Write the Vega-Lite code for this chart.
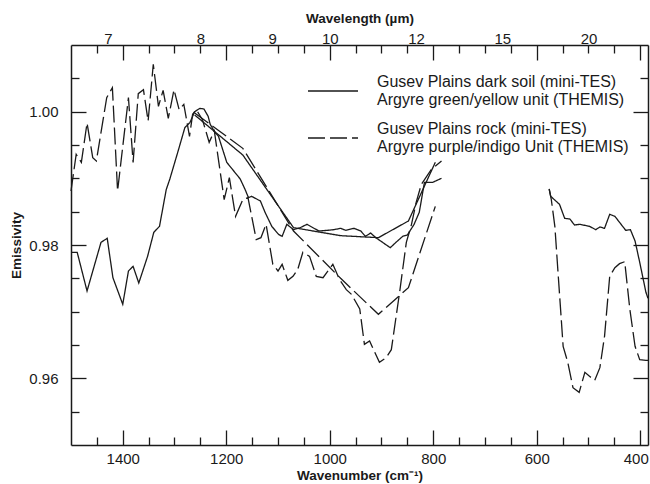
{
  "$schema": "https://vega.github.io/schema/vega-lite/v6.json",
  "width": 577,
  "height": 400,
  "autosize": {"type": "none"},
  "padding": {"left": 71, "top": 45, "right": 2, "bottom": 39},
  "config": {
    "view": {"stroke": null},
    "font": "Liberation Sans",
    "axis": {"labelFont": "Liberation Sans", "titleFont": "Liberation Sans", "grid": false, "domainColor": "#1a1a1a", "domainWidth": 1.5, "tickColor": "#1a1a1a", "tickWidth": 1.3, "labelColor": "#1a1a1a", "titleColor": "#1a1a1a", "labelFontSize": 15, "titleFontSize": 13.5, "titleFontWeight": "bold", "labelOverlap": false, "labelFlush": false}
  },
  "datasets": {
    "groups": [
      {"g": "a", "label": "Gusev Plains dark soil (mini-TES)|Argyre green/yellow unit (THEMIS)"},
      {"g": "b", "label": "Gusev Plains rock (mini-TES)|Argyre purple/indigo Unit (THEMIS)"}
    ],
    "curves": [
      {"s":"soil1","g":"a","w":1500,"e":0.9789},{"s":"soil1","g":"a","w":1488,"e":0.9789},{"s":"soil1","g":"a","w":1469,"e":0.9731},{"s":"soil1","g":"a","w":1442,"e":0.9804},{"s":"soil1","g":"a","w":1430,"e":0.9810},{"s":"soil1","g":"a","w":1419,"e":0.9751},{"s":"soil1","g":"a","w":1400,"e":0.9711},{"s":"soil1","g":"a","w":1389,"e":0.9761},{"s":"soil1","g":"a","w":1380,"e":0.9768},{"s":"soil1","g":"a","w":1369,"e":0.9743},{"s":"soil1","g":"a","w":1352,"e":0.9783},{"s":"soil1","g":"a","w":1340,"e":0.9819},{"s":"soil1","g":"a","w":1329,"e":0.9828},{"s":"soil1","g":"a","w":1316,"e":0.9883},{"s":"soil1","g":"a","w":1309,"e":0.9899},{"s":"soil1","g":"a","w":1293,"e":0.9941},{"s":"soil1","g":"a","w":1280,"e":0.9976},{"s":"soil1","g":"a","w":1270,"e":0.9984},{"s":"soil1","g":"a","w":1261,"e":1.0000},{"s":"soil1","g":"a","w":1251,"e":1.0005},{"s":"soil1","g":"a","w":1243,"e":1.0004},{"s":"soil1","g":"a","w":1235,"e":0.9993},{"s":"soil1","g":"a","w":1231,"e":0.9981},{"s":"soil1","g":"a","w":1222,"e":0.9969},{"s":"soil1","g":"a","w":1215,"e":0.9963},{"s":"soil1","g":"a","w":1199,"e":0.9924},{"s":"soil1","g":"a","w":1173,"e":0.9899},{"s":"soil1","g":"a","w":1164,"e":0.9884},{"s":"soil1","g":"a","w":1157,"e":0.9871},{"s":"soil1","g":"a","w":1151,"e":0.9873},{"s":"soil1","g":"a","w":1134,"e":0.9866},{"s":"soil1","g":"a","w":1125,"e":0.9849},{"s":"soil1","g":"a","w":1112,"e":0.9828},{"s":"soil1","g":"a","w":1099,"e":0.9816},{"s":"soil1","g":"a","w":1092,"e":0.9813},{"s":"soil1","g":"a","w":1083,"e":0.9831},{"s":"soil1","g":"a","w":1070,"e":0.9823},{"s":"soil1","g":"a","w":1057,"e":0.9826},{"s":"soil1","g":"a","w":1044,"e":0.9831},{"s":"soil1","g":"a","w":1021,"e":0.9821},{"s":"soil1","g":"a","w":1005,"e":0.9822},{"s":"soil1","g":"a","w":992,"e":0.9823},{"s":"soil1","g":"a","w":979,"e":0.9825},{"s":"soil1","g":"a","w":969,"e":0.9822},{"s":"soil1","g":"a","w":953,"e":0.9825},{"s":"soil1","g":"a","w":940,"e":0.9821},{"s":"soil1","g":"a","w":931,"e":0.9813},{"s":"soil1","g":"a","w":921,"e":0.9818},{"s":"soil1","g":"a","w":911,"e":0.9811},{"s":"soil1","g":"a","w":898,"e":0.9804},{"s":"soil1","g":"a","w":883,"e":0.9796},{"s":"soil1","g":"a","w":872,"e":0.9804},{"s":"soil1","g":"a","w":859,"e":0.9813},{"s":"soil1","g":"a","w":850,"e":0.9815},{"s":"soil1","g":"a","w":837,"e":0.9831},{"s":"soil1","g":"a","w":827,"e":0.9849},{"s":"soil1","g":"a","w":817,"e":0.9894},{"s":"soil1","g":"a","w":801,"e":0.9894},{"s":"soil1","g":"a","w":784,"e":0.9900},
      {"s":"soil2","g":"a","w":576,"e":0.9884},{"s":"soil2","g":"a","w":573,"e":0.9873},{"s":"soil2","g":"a","w":556,"e":0.9861},{"s":"soil2","g":"a","w":546,"e":0.9840},{"s":"soil2","g":"a","w":536,"e":0.9839},{"s":"soil2","g":"a","w":527,"e":0.9830},{"s":"soil2","g":"a","w":517,"e":0.9831},{"s":"soil2","g":"a","w":498,"e":0.9828},{"s":"soil2","g":"a","w":486,"e":0.9823},{"s":"soil2","g":"a","w":478,"e":0.9827},{"s":"soil2","g":"a","w":469,"e":0.9825},{"s":"soil2","g":"a","w":459,"e":0.9846},{"s":"soil2","g":"a","w":449,"e":0.9843},{"s":"soil2","g":"a","w":440,"e":0.9834},{"s":"soil2","g":"a","w":428,"e":0.9822},{"s":"soil2","g":"a","w":419,"e":0.9823},{"s":"soil2","g":"a","w":410,"e":0.9806},{"s":"soil2","g":"a","w":401,"e":0.9774},{"s":"soil2","g":"a","w":389,"e":0.9729},{"s":"soil2","g":"a","w":385,"e":0.9720},
      {"s":"green","g":"a","w":1261,"e":0.9995},{"s":"green","g":"a","w":1168,"e":0.9935},{"s":"green","g":"a","w":1070,"e":0.9826},{"s":"green","g":"a","w":979,"e":0.9814},{"s":"green","g":"a","w":906,"e":0.9811},{"s":"green","g":"a","w":848,"e":0.9836},{"s":"green","g":"a","w":796,"e":0.9924},
      {"s":"rock1","g":"b","w":1500,"e":0.9881},{"s":"rock1","g":"b","w":1490,"e":0.9936},{"s":"rock1","g":"b","w":1480,"e":0.9924},{"s":"rock1","g":"b","w":1469,"e":0.9983},{"s":"rock1","g":"b","w":1458,"e":0.9931},{"s":"rock1","g":"b","w":1451,"e":0.9926},{"s":"rock1","g":"b","w":1431,"e":1.0021},{"s":"rock1","g":"b","w":1420,"e":1.0036},{"s":"rock1","g":"b","w":1410,"e":0.9881},{"s":"rock1","g":"b","w":1389,"e":1.0021},{"s":"rock1","g":"b","w":1380,"e":0.9924},{"s":"rock1","g":"b","w":1370,"e":1.0027},{"s":"rock1","g":"b","w":1360,"e":1.0033},{"s":"rock1","g":"b","w":1351,"e":0.9986},{"s":"rock1","g":"b","w":1341,"e":1.0071},{"s":"rock1","g":"b","w":1331,"e":1.0008},{"s":"rock1","g":"b","w":1322,"e":1.0032},{"s":"rock1","g":"b","w":1312,"e":0.9990},{"s":"rock1","g":"b","w":1301,"e":1.0033},{"s":"rock1","g":"b","w":1291,"e":1.0003},{"s":"rock1","g":"b","w":1282,"e":1.0011},{"s":"rock1","g":"b","w":1271,"e":0.9963},{"s":"rock1","g":"b","w":1265,"e":0.9996},{"s":"rock1","g":"b","w":1258,"e":1.0003},{"s":"rock1","g":"b","w":1246,"e":0.9988},{"s":"rock1","g":"b","w":1233,"e":0.9954},{"s":"rock1","g":"b","w":1223,"e":0.9971},{"s":"rock1","g":"b","w":1204,"e":0.9868},{"s":"rock1","g":"b","w":1194,"e":0.9901},{"s":"rock1","g":"b","w":1182,"e":0.9843},{"s":"rock1","g":"b","w":1168,"e":0.9868},{"s":"rock1","g":"b","w":1158,"e":0.9871},{"s":"rock1","g":"b","w":1142,"e":0.9808},{"s":"rock1","g":"b","w":1133,"e":0.9811},{"s":"rock1","g":"b","w":1123,"e":0.9831},{"s":"rock1","g":"b","w":1110,"e":0.9771},{"s":"rock1","g":"b","w":1100,"e":0.9761},{"s":"rock1","g":"b","w":1092,"e":0.9771},{"s":"rock1","g":"b","w":1081,"e":0.9747},{"s":"rock1","g":"b","w":1071,"e":0.9753},{"s":"rock1","g":"b","w":1062,"e":0.9763},{"s":"rock1","g":"b","w":1052,"e":0.9789},{"s":"rock1","g":"b","w":1039,"e":0.9783},{"s":"rock1","g":"b","w":1026,"e":0.9753},{"s":"rock1","g":"b","w":1013,"e":0.9751},{"s":"rock1","g":"b","w":994,"e":0.9771},{"s":"rock1","g":"b","w":981,"e":0.9748},{"s":"rock1","g":"b","w":968,"e":0.9733},{"s":"rock1","g":"b","w":958,"e":0.9726},{"s":"rock1","g":"b","w":942,"e":0.9704},{"s":"rock1","g":"b","w":933,"e":0.9651},{"s":"rock1","g":"b","w":923,"e":0.9656},{"s":"rock1","g":"b","w":913,"e":0.9639},{"s":"rock1","g":"b","w":904,"e":0.9624},{"s":"rock1","g":"b","w":891,"e":0.9631},{"s":"rock1","g":"b","w":881,"e":0.9643},{"s":"rock1","g":"b","w":865,"e":0.9729},{"s":"rock1","g":"b","w":852,"e":0.9804},{"s":"rock1","g":"b","w":842,"e":0.9831},{"s":"rock1","g":"b","w":833,"e":0.9864},{"s":"rock1","g":"b","w":823,"e":0.9891},{"s":"rock1","g":"b","w":804,"e":0.9913},{"s":"rock1","g":"b","w":784,"e":0.9926},
      {"s":"rock2","g":"b","w":576,"e":0.9884},{"s":"rock2","g":"b","w":572,"e":0.9869},{"s":"rock2","g":"b","w":565,"e":0.9828},{"s":"rock2","g":"b","w":549,"e":0.9648},{"s":"rock2","g":"b","w":540,"e":0.9624},{"s":"rock2","g":"b","w":530,"e":0.9586},{"s":"rock2","g":"b","w":518,"e":0.9579},{"s":"rock2","g":"b","w":507,"e":0.9609},{"s":"rock2","g":"b","w":498,"e":0.9603},{"s":"rock2","g":"b","w":488,"e":0.9597},{"s":"rock2","g":"b","w":478,"e":0.9616},{"s":"rock2","g":"b","w":469,"e":0.9663},{"s":"rock2","g":"b","w":459,"e":0.9753},{"s":"rock2","g":"b","w":449,"e":0.9766},{"s":"rock2","g":"b","w":440,"e":0.9772},{"s":"rock2","g":"b","w":430,"e":0.9775},{"s":"rock2","g":"b","w":420,"e":0.9703},{"s":"rock2","g":"b","w":410,"e":0.9648},{"s":"rock2","g":"b","w":401,"e":0.9628},{"s":"rock2","g":"b","w":389,"e":0.9627},{"s":"rock2","g":"b","w":385,"e":0.9627},
      {"s":"purple","g":"b","w":1261,"e":0.9998},{"s":"purple","g":"b","w":1168,"e":0.9945},{"s":"purple","g":"b","w":1070,"e":0.9821},{"s":"purple","g":"b","w":979,"e":0.9750},{"s":"purple","g":"b","w":906,"e":0.9696},{"s":"purple","g":"b","w":848,"e":0.9736},{"s":"purple","g":"b","w":796,"e":0.9858}
    ]
  },
  "data": {"name": "curves"},
  "transform": [
    {"lookup": "g", "from": {"data": {"name": "groups"}, "key": "g", "fields": ["label"]}}
  ],
  "layer": [
    {
      "mark": {"type": "line", "strokeWidth": 1.3, "color": "#1a1a1a"},
      "encoding": {
        "x": {
          "field": "w", "type": "quantitative",
          "scale": {"domain": [385, 1500], "reverse": true, "nice": false, "zero": false},
          "axis": {"orient": "bottom", "values": [400, 600, 800, 1000, 1200, 1400], "format": "d", "ticks": false, "labelPadding": 6, "labelFlush": 10, "labelFlushOffset": 8, "title": "Wavenumber (cm⁻¹)", "titlePadding": 2}
        },
        "y": {
          "field": "e", "type": "quantitative",
          "scale": {"domain": [0.95, 1.01], "nice": false, "zero": false},
          "axis": {"orient": "left", "values": [0.96, 0.98, 1], "format": ".2f", "ticks": false, "labelPadding": 13, "title": "Emissivity", "titlePadding": 5}
        },
        "strokeDash": {
          "field": "label", "type": "nominal",
          "scale": {"domain": ["Gusev Plains dark soil (mini-TES)|Argyre green/yellow unit (THEMIS)", "Gusev Plains rock (mini-TES)|Argyre purple/indigo Unit (THEMIS)"], "range": [[1, 0], [17, 5]]},
          "legend": {
            "orient": "none", "legendX": 236, "legendY": 20,
            "title": null, "padding": 0,
            "symbolType": "stroke", "symbolSize": 2500, "symbolStrokeWidth": 1.3, "symbolStrokeColor": "#1a1a1a",
            "labelExpr": "split(datum.label, '|')",
            "labelBaseline": "line-bottom",
            "labelFont": "Liberation Sans", "labelFontSize": 16, "labelColor": "#1a1a1a",
            "labelOffset": 18, "rowPadding": 4, "labelLimit": 400
          }
        },
        "detail": {"field": "s", "type": "nominal"}
      }
    },
    {
      "mark": {"type": "point", "opacity": 0},
      "encoding": {
        "x": {"field": "w", "type": "quantitative", "axis": {"orient": "bottom", "values": [400, 600, 800, 1000, 1200, 1400], "labels": false, "domain": false, "tickSize": -15, "title": null}},
        "y": {"field": "e", "type": "quantitative", "axis": {"orient": "left", "values": [0.96, 0.98, 1], "labels": false, "domain": false, "tickSize": -15, "title": null}}
      }
    },
    {
      "mark": {"type": "point", "opacity": 0},
      "encoding": {
        "x": {"field": "w", "type": "quantitative", "axis": {"orient": "bottom", "values": [450, 500, 550, 650, 700, 750, 850, 900, 950, 1050, 1100, 1150, 1250, 1300, 1350, 1450], "labels": false, "domain": false, "tickSize": -8, "title": null}},
        "y": {"field": "e", "type": "quantitative", "axis": {"orient": "left", "values": [0.955, 0.965, 0.97, 0.975, 0.985, 0.99, 0.995, 1.005], "labels": false, "domain": false, "tickSize": -8, "title": null}}
      }
    },
    {
      "mark": {"type": "point", "opacity": 0},
      "encoding": {
        "x": {"field": "w", "type": "quantitative", "axis": {"orient": "top", "values": [400, 600, 800, 1000, 1200, 1400], "labels": false, "tickSize": -15, "title": null}},
        "y": {"field": "e", "type": "quantitative", "axis": {"orient": "right", "values": [0.96, 0.98, 1], "labels": false, "tickSize": -15, "title": null}}
      }
    },
    {
      "mark": {"type": "point", "opacity": 0},
      "encoding": {
        "x": {"field": "w", "type": "quantitative", "axis": {"orient": "top", "values": [450, 500, 550, 650, 700, 750, 850, 900, 950, 1050, 1100, 1150, 1250, 1300, 1350, 1450], "labels": false, "domain": false, "tickSize": -8, "title": null}},
        "y": {"field": "e", "type": "quantitative", "axis": {"orient": "right", "values": [0.955, 0.965, 0.97, 0.975, 0.985, 0.99, 0.995, 1.005], "labels": false, "domain": false, "tickSize": -8, "title": null}}
      }
    },
    {
      "mark": {"type": "point", "opacity": 0},
      "encoding": {
        "x": {"field": "w", "type": "quantitative", "axis": {"orient": "top", "values": [1428.5714, 1250, 1111.1111, 1000, 833.3333, 666.6667, 500], "labelExpr": "format(round(10000 / datum.value), 'd')", "ticks": false, "domain": false, "labelPadding": -1, "title": "Wavelength (µm)", "titlePadding": 6}},
        "y": {"field": "e", "type": "quantitative", "axis": null}
      }
    }
  ],
  "resolve": {"axis": {"x": "independent", "y": "independent"}}
}
